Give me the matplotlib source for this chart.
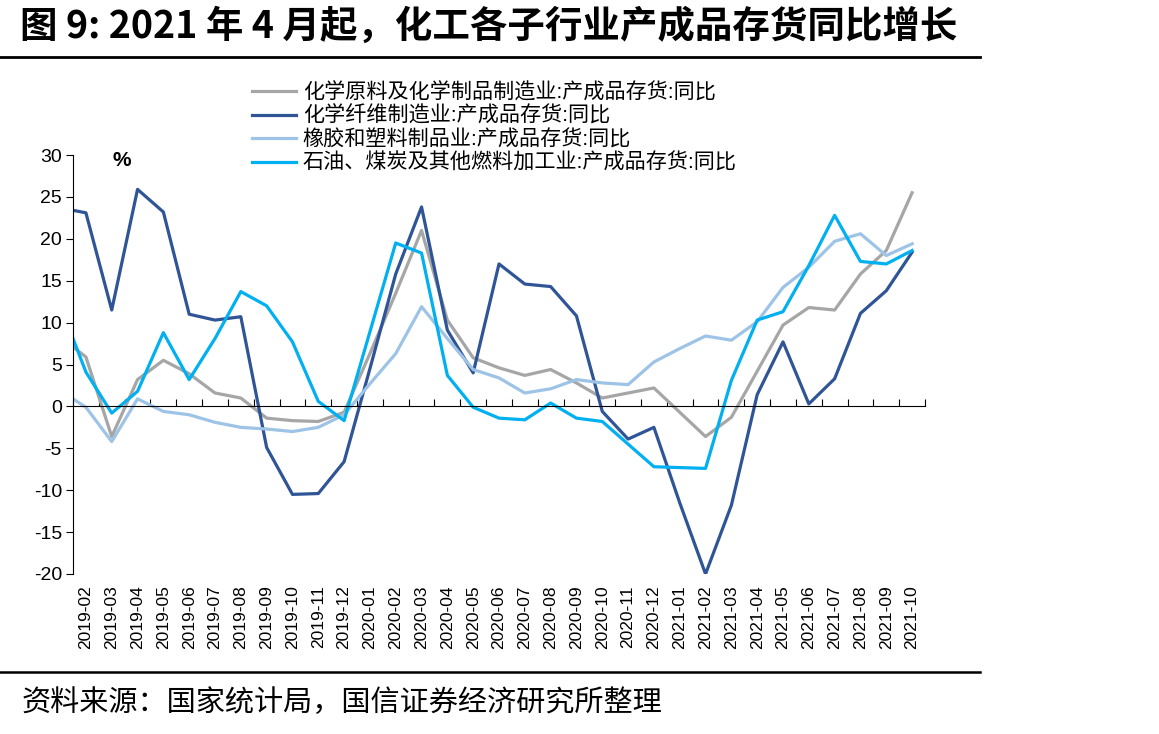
import numpy as np
import matplotlib
matplotlib.use('Agg')
import matplotlib.pyplot as plt
from matplotlib.lines import Line2D

plt.rcParams['font.family'] = ['Liberation Sans', 'Noto Sans CJK SC', 'DejaVu Sans']
plt.rcParams['axes.unicode_minus'] = False

# months (2019-01 only feeds the clipped start of each line)
months = ['2019-01', '2019-02', '2019-03', '2019-04', '2019-05', '2019-06', '2019-07',
          '2019-08', '2019-09', '2019-10', '2019-11', '2019-12', '2020-01', '2020-02',
          '2020-03', '2020-04', '2020-05', '2020-06', '2020-07', '2020-08', '2020-09',
          '2020-10', '2020-11', '2020-12', '2021-01', '2021-02', '2021-03', '2021-04',
          '2021-05', '2021-06', '2021-07', '2021-08', '2021-09', '2021-10']

chem_raw = [8.3, 5.9, -3.6, 3.2, 5.5, 3.9, 1.6, 1.0, -1.4, -1.7, -1.8, -0.7, 6.3, 13.5,
            21.0, 10.3, 5.8, 4.6, 3.7, 4.4, 2.8, 1.0, 1.6, 2.2, -0.7, -3.6, -1.3, 4.2,
            9.7, 11.8, 11.5, 15.8, 18.6, 25.5]
chem_fiber = [23.7, 23.1, 11.5, 25.9, 23.2, 11.0, 10.3, 10.7, -4.9, -10.5, -10.4, -6.6,
              4.5, 15.8, 23.8, 9.1, 4.0, 17.0, 14.6, 14.3, 10.8, -0.6, -3.9, -2.5,
              -11.5, -20.0, -11.8, 1.4, 7.7, 0.3, 3.3, 11.1, 13.8, 18.4]
rubber = [1.9, -0.1, -4.2, 0.9, -0.6, -1.0, -1.9, -2.5, -2.7, -3.0, -2.5, -1.0, 2.7, 6.3,
          11.9, 8.1, 4.4, 3.4, 1.6, 2.1, 3.2, 2.8, 2.6, 5.3, 6.9, 8.4, 7.9, 10.1, 14.2,
          16.6, 19.7, 20.6, 18.0, 19.4]
petro = [12.1, 4.1, -0.8, 1.8, 8.8, 3.2, 8.1, 13.7, 12.0, 7.7, 0.6, -1.7, 8.9, 19.5,
         18.3, 3.7, -0.1, -1.4, -1.6, 0.4, -1.4, -1.8, -4.5, -7.2, -7.3, -7.4, 3.1, 10.3,
         11.3, 16.8, 22.8, 17.3, 17.0, 18.6]

names = ['化学原料及化学制品制造业:产成品存货:同比',
         '化学纤维制造业:产成品存货:同比',
         '橡胶和塑料制品业:产成品存货:同比',
         '石油、煤炭及其他燃料加工业:产成品存货:同比']
colors = ['#A6A6A6', '#2F5597', '#9DC3E6', '#00B0F0']

x = np.arange(len(months))

fig = plt.figure(figsize=(11.59, 7.34), dpi=100)
ax = fig.add_axes([73/1159, 1-574/734, (925-73)/1159, (574-155)/734])

handles = []
for vals, c, n in zip([chem_raw, chem_fiber, rubber, petro], colors, names):
    h, = ax.plot(x, vals, color=c, lw=2.3, label=n)
    handles.append(h)

ax.set_xlim(0.5, len(months) - 0.5)
ax.set_ylim(-20, 30)
ax.set_yticks(range(-20, 31, 5))
ax.tick_params(axis='y', direction='out', length=5, labelsize=14, pad=3)

ax.spines['top'].set_visible(False)
ax.spines['right'].set_visible(False)
ax.spines['bottom'].set_position(('data', 0))
ax.set_xticks(np.arange(0.5, len(months), 1))
ax.tick_params(axis='x', direction='in', length=5, labelbottom=False)

sec = ax.secondary_xaxis(0)
sec.set_xticks(x[1:], months[1:], rotation=90)
sec.tick_params(length=0, labelsize=12.5, pad=8)
sec.spines['bottom'].set_visible(False)

fig.legend(handles=handles, loc='upper left', bbox_to_anchor=(252/1159, 1-82/734),
           frameon=False, fontsize=15.2, handlelength=2.1, handletextpad=0.3,
           labelspacing=0.16, borderaxespad=0, borderpad=0)

fig.text(122/1159, 1-160/734, '%', fontsize=15, weight='bold', ha='center', va='center')

fig.text(20/1159, 1-26/734, '图 9: 2021 年 4 月起，化工各子行业产成品存货同比增长',
         fontsize=27, weight='bold', va='center', ha='left', family=['Noto Sans CJK SC'])
fig.add_artist(Line2D([0, 980/1159], [1-57/734, 1-57/734], color='black', lw=2))
fig.add_artist(Line2D([0, 980/1159], [1-672/734, 1-672/734], color='black', lw=1.8))
fig.text(22/1159, 1-703/734, '资料来源：国家统计局，国信证券经济研究所整理',
         fontsize=21, va='center', ha='left', family=['Noto Sans CJK SC'])

fig.savefig('out.png', dpi=100)
